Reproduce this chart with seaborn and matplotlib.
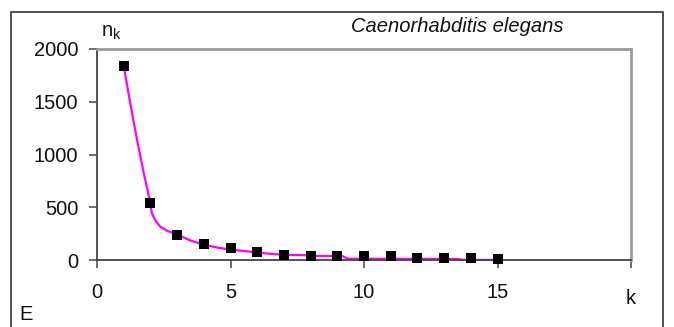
import matplotlib
matplotlib.use("Agg")
import matplotlib.pyplot as plt
from matplotlib.patches import Rectangle
import seaborn as sns
import pandas as pd

# Observed degree distribution n_k
k_values = [1, 2, 3, 4, 5, 6, 7, 8, 9, 10, 11, 12, 13, 14, 15]
n_values = [1840, 540, 240, 155, 112, 76, 50, 41, 41, 41, 41, 19, 19, 19, 9]

# Fitted curve, sampled along k
curve_k = [1, 1.25, 1.5, 1.75, 2, 2.05, 2.17, 2.36, 2.61, 2.92, 3.5, 4, 4.5, 5,
           5.5, 6, 6.5, 7, 7.9, 8.1, 9.2, 9.4, 13.5, 13.7, 15]
curve_n = [1840, 1480, 1140, 825, 540, 445, 382, 318, 278, 250, 185, 145, 118, 98,
           85, 72, 58, 50, 45, 38, 36, 12, 10, 2, 0]

x_ticks = [0, 5, 10, 15, 20]
x_tick_labels = ["0", "5", "10", "15", ""]
y_ticks = [0, 500, 1000, 1500, 2000]

title_text = "Caenorhabditis elegans"
panel_letter = "E"

sns.set_theme(style="white")
plt.rcParams["font.family"] = ["Liberation Sans", "DejaVu Sans"]
plt.rcParams["mathtext.fontset"] = "custom"
plt.rcParams["mathtext.rm"] = "Liberation Sans"
plt.rcParams["mathtext.it"] = "Liberation Sans:italic"

points = pd.DataFrame({"k": k_values, "n": n_values})
curve = pd.DataFrame({"k": curve_k, "n": curve_n})

fig = plt.figure(figsize=(6.74, 3.27), dpi=100)
fig.patch.set_facecolor("white")
ax = fig.add_axes([97 / 674, 1 - 260 / 327, (631 - 97) / 674, (260 - 49) / 327])

sns.lineplot(data=curve, x="k", y="n", ax=ax, color="#FF00FF", linewidth=1.6,
             sort=False, zorder=2, clip_on=False)
sns.scatterplot(data=points, x="k", y="n", ax=ax, marker="s", s=50,
                color="black", linewidth=0, zorder=3, clip_on=False)

ax.set_xlim(0, 20)
ax.set_ylim(0, 2000)
ax.set_xticks(x_ticks)
ax.set_xticklabels(x_tick_labels)
ax.set_yticks(y_ticks)
ax.set_xlabel("")
ax.set_ylabel("")

for side in ("top", "right"):
    ax.spines[side].set_color("#9a9a9a")
    ax.spines[side].set_linewidth(2.0)
for side in ("left", "bottom"):
    ax.spines[side].set_color("#444444")
    ax.spines[side].set_linewidth(1.3)
    ax.spines[side].set_visible(True)

ax.tick_params(axis="both", which="major", direction="out", length=5.5,
               width=1.1, color="#444444", labelsize=14.5, labelcolor="#111111",
               bottom=True, left=True)
ax.tick_params(axis="x", pad=11)
ax.tick_params(axis="y", pad=8)
ax.grid(False)

# Axis names and headings
fig.text(101 / 674, 1 - 37 / 327, r"n$_{\mathregular{k}}$", fontsize=14.5,
         color="#111111", ha="left", va="baseline")
fig.text(457 / 674, 1 - 26 / 327, title_text, fontsize=14.5, style="italic",
         color="#111111", ha="center", va="center")
fig.text(631 / 674, 1 - 298 / 327, "k", fontsize=14.5, color="#111111",
         ha="center", va="center")
fig.text(26 / 674, 1 - 315 / 327, panel_letter, fontsize=14.5, color="#111111",
         ha="center", va="center")

# Outer panel frame (open at the bottom edge of the image)
fig.patches.append(Rectangle((11 / 674, -0.1), (663 - 11) / 674, (1 - 12 / 327) + 0.1,
                             transform=fig.transFigure, fill=False,
                             edgecolor="#333333", linewidth=1.2))

fig.savefig("out.png", dpi=100, facecolor="white")
